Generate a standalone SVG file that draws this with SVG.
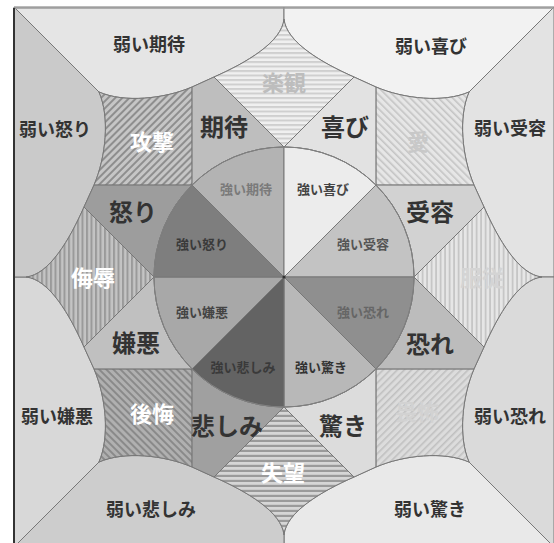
<svg xmlns="http://www.w3.org/2000/svg" width="554" height="543" viewBox="0 0 554 543">
<style>
.r{stroke:#777;stroke-width:1;stroke-linejoin:round}
text{font-family:"Noto Sans CJK JP","Noto Sans CJK SC",sans-serif;text-anchor:middle;dominant-baseline:central;font-weight:700}
.w{font-size:18px;fill:#333}
.m{font-size:24px;fill:#333}
.h{font-size:22px;fill:#fff}
.s{font-size:13px;fill:#444}
</style>
<defs>
<path id="W" d="M0,-270 L270,-270 L185,-185 C160,-174 120,-178 92,-190 L70,-200 C38,-214 2,-235 0,-258 Z"/>
<path id="M" d="M0,-130 L70,-200 L91.92,-190 L91.92,-91.92 A130,130 0 0 0 0,-130 Z"/>
<path id="D" d="M0,-130 L70,-200 C38,-214 2,-235 0,-258 C-2,-235 -38,-214 -70,-200 Z"/>
<path id="Q" d="M91.92,-91.92 L91.92,-190 C120,-178 160,-174 185,-185 C174,-160 178,-120 190,-91.92 Z"/>
<path id="S" d="M0,0 L0,-130 A130,130 0 0 1 91.92,-91.92 Z"/>
<pattern id="pOpt" width="4.5" height="4.5" patternUnits="userSpaceOnUse"><rect width="4.5" height="4.5" fill="#f0f0f0"/><rect width="4.5" height="2" fill="#cfcfcf"/></pattern>
<pattern id="pSub" width="4.5" height="4.5" patternUnits="userSpaceOnUse"><rect width="4.5" height="4.5" fill="#e6e6e6"/><rect width="4.5" height="1.8" fill="#c6c6c6"/></pattern>
<pattern id="pDis" width="5" height="5" patternUnits="userSpaceOnUse"><rect width="5" height="5" fill="#d6d6d6"/><rect width="5" height="2.2" fill="#9a9a9a"/></pattern>
<pattern id="pCon" width="4.5" height="4.5" patternUnits="userSpaceOnUse"><rect width="4.5" height="4.5" fill="#c4c4c4"/><rect width="4.5" height="2" fill="#9a9a9a"/></pattern>
<pattern id="pLov" width="5" height="5" patternUnits="userSpaceOnUse" patternTransform="rotate(-45)"><rect width="5" height="5" fill="#e6e6e6"/><rect width="1.6" height="5" fill="#c4c4c4"/></pattern>
<pattern id="pAwe" width="5" height="5" patternUnits="userSpaceOnUse" patternTransform="rotate(-45)"><rect width="5" height="5" fill="#dcdcdc"/><rect width="1.6" height="5" fill="#c0c0c0"/></pattern>
<pattern id="pRem" width="5" height="5" patternUnits="userSpaceOnUse" patternTransform="rotate(-45)"><rect width="5" height="5" fill="#b0b0b0"/><rect width="2" height="5" fill="#8a8a8a"/></pattern>
<pattern id="pAgg" width="5" height="5" patternUnits="userSpaceOnUse" patternTransform="rotate(-45)"><rect width="5" height="5" fill="#c6c6c6"/><rect width="2" height="5" fill="#8e8e8e"/></pattern>
</defs>
<rect width="554" height="543" fill="#fff"/>

<g id="weak">
<g id="weak-anticipation"><use href="#W" class="r" fill="#e5e5e5" transform="translate(284 277) scale(-1 1)"/><text class="w" x="149" y="43">弱い期待</text></g>
<g id="weak-joy"><use href="#W" class="r" fill="#f2f2f2" transform="translate(284 277)"/><text class="w" x="431" y="45">弱い喜び</text></g>
<g id="weak-trust"><use href="#W" class="r" fill="#e3e3e3" transform="translate(284 277) matrix(0 -1 -1 0 0 0)"/><text class="w" x="510" y="127">弱い受容</text></g>
<g id="weak-fear"><use href="#W" class="r" fill="#dadada" transform="translate(284 277) rotate(90)"/><text class="w" x="510" y="415">弱い恐れ</text></g>
<g id="weak-surprise"><use href="#W" class="r" fill="#e9e9e9" transform="translate(284 277) scale(1 -1)"/><text class="w" x="430" y="508">弱い驚き</text></g>
<g id="weak-sadness"><use href="#W" class="r" fill="#cdcdcd" transform="translate(284 277) rotate(180)"/><text class="w" x="151" y="508">弱い悲しみ</text></g>
<g id="weak-disgust"><use href="#W" class="r" fill="#d8d8d8" transform="translate(284 277) matrix(0 1 1 0 0 0)"/><text class="w" x="57" y="415">弱い嫌悪</text></g>
<g id="weak-anger"><use href="#W" class="r" fill="#cacaca" transform="translate(284 277) rotate(-90)"/><text class="w" x="55" y="128">弱い怒り</text></g>
</g>

<g id="dyads">
<g id="optimism"><use href="#D" class="r" fill="url(#pOpt)" transform="translate(284 277)"/><text class="h" x="284" y="81" style="fill:#bdbdbd">楽観</text></g>
<g id="submission"><use href="#D" class="r" fill="url(#pSub)" transform="translate(284 277) rotate(90)"/><text class="h" x="482" y="276" style="fill:#d4d4d4">服従</text></g>
<g id="disappointment"><use href="#D" class="r" fill="url(#pDis)" transform="translate(284 277) rotate(180)"/><text class="h" x="283" y="471">失望</text></g>
<g id="contempt"><use href="#D" class="r" fill="url(#pCon)" transform="translate(284 277) rotate(-90)"/><text class="h" x="93" y="276">侮辱</text></g>
<g id="love"><use href="#Q" class="r" fill="url(#pLov)" transform="translate(284 277)"/><text class="h" x="418" y="140" style="fill:#c8c8c8">愛</text></g>
<g id="awe"><use href="#Q" class="r" fill="url(#pAwe)" transform="translate(284 277) rotate(90)"/><text class="h" x="417" y="410" style="fill:#d2d2d2">畏怖</text></g>
<g id="remorse"><use href="#Q" class="r" fill="url(#pRem)" transform="translate(284 277) rotate(180)"/><text class="h" x="152" y="412">後悔</text></g>
<g id="aggressiveness"><use href="#Q" class="r" fill="url(#pAgg)" transform="translate(284 277) rotate(-90)"/><text class="h" x="152" y="140">攻撃</text></g>
</g>

<g id="basic">
<g id="anticipation"><use href="#M" class="r" fill="#bebebe" transform="translate(284 277) scale(-1 1)"/><text class="m" x="224" y="125">期待</text></g>
<g id="joy"><use href="#M" class="r" fill="#e2e2e2" transform="translate(284 277)"/><text class="m" x="345" y="125">喜び</text></g>
<g id="trust"><use href="#M" class="r" fill="#d2d2d2" transform="translate(284 277) matrix(0 -1 -1 0 0 0)"/><text class="m" x="430" y="210">受容</text></g>
<g id="fear"><use href="#M" class="r" fill="#bcbcbc" transform="translate(284 277) rotate(90)"/><text class="m" x="430" y="342">恐れ</text></g>
<g id="surprise"><use href="#M" class="r" fill="#dcdcdc" transform="translate(284 277) scale(1 -1)"/><text class="m" x="343" y="424">驚き</text></g>
<g id="sadness"><use href="#M" class="r" fill="#a0a0a0" transform="translate(284 277) rotate(180)"/><text class="m" x="227" y="424">悲しみ</text></g>
<g id="disgust"><use href="#M" class="r" fill="#c0c0c0" transform="translate(284 277) matrix(0 1 1 0 0 0)"/><text class="m" x="136" y="341">嫌悪</text></g>
<g id="anger"><use href="#M" class="r" fill="#9d9d9d" transform="translate(284 277) rotate(-90)"/><text class="m" x="133" y="210">怒り</text></g>
</g>

<g id="strong">
<g id="strong-anticipation"><use href="#S" class="r" fill="#b3b3b3" transform="translate(284 277) scale(-1 1)"/><text class="s" x="246" y="188" style="fill:#7a7a7a">強い期待</text></g>
<g id="strong-joy"><use href="#S" class="r" fill="#ececec" transform="translate(284 277)"/><text class="s" x="323" y="188">強い喜び</text></g>
<g id="strong-trust"><use href="#S" class="r" fill="#c3c3c3" transform="translate(284 277) matrix(0 -1 -1 0 0 0)"/><text class="s" x="363" y="243" style="fill:#555">強い受容</text></g>
<g id="strong-fear"><use href="#S" class="r" fill="#8f8f8f" transform="translate(284 277) rotate(90)"/><text class="s" x="363" y="311" style="fill:#666">強い恐れ</text></g>
<g id="strong-surprise"><use href="#S" class="r" fill="#b8b8b8" transform="translate(284 277) scale(1 -1)"/><text class="s" x="321" y="366" style="fill:#333">強い驚き</text></g>
<g id="strong-sadness"><use href="#S" class="r" fill="#636363" transform="translate(284 277) rotate(180)"/><text class="s" x="243" y="366" style="fill:#3a3a3a">強い悲しみ</text></g>
<g id="strong-disgust"><use href="#S" class="r" fill="#a8a8a8" transform="translate(284 277) matrix(0 1 1 0 0 0)"/><text class="s" x="202" y="311">強い嫌悪</text></g>
<g id="strong-anger"><use href="#S" class="r" fill="#7e7e7e" transform="translate(284 277) rotate(-90)"/><text class="s" x="202" y="243" style="fill:#3a3a3a">強い怒り</text></g>
</g>

<g id="connectors">
<circle cx="284" cy="277" r="130" fill="none" stroke="#808080" stroke-width="1"/>
<circle cx="284" cy="277" r="1.6" fill="#333"/>
<line x1="14" y1="8" x2="554" y2="8" stroke="#9a9a9a" stroke-width="1.3"/>
<line x1="14" y1="8" x2="14" y2="543" stroke="#333" stroke-width="2"/>
</g>
</svg>
